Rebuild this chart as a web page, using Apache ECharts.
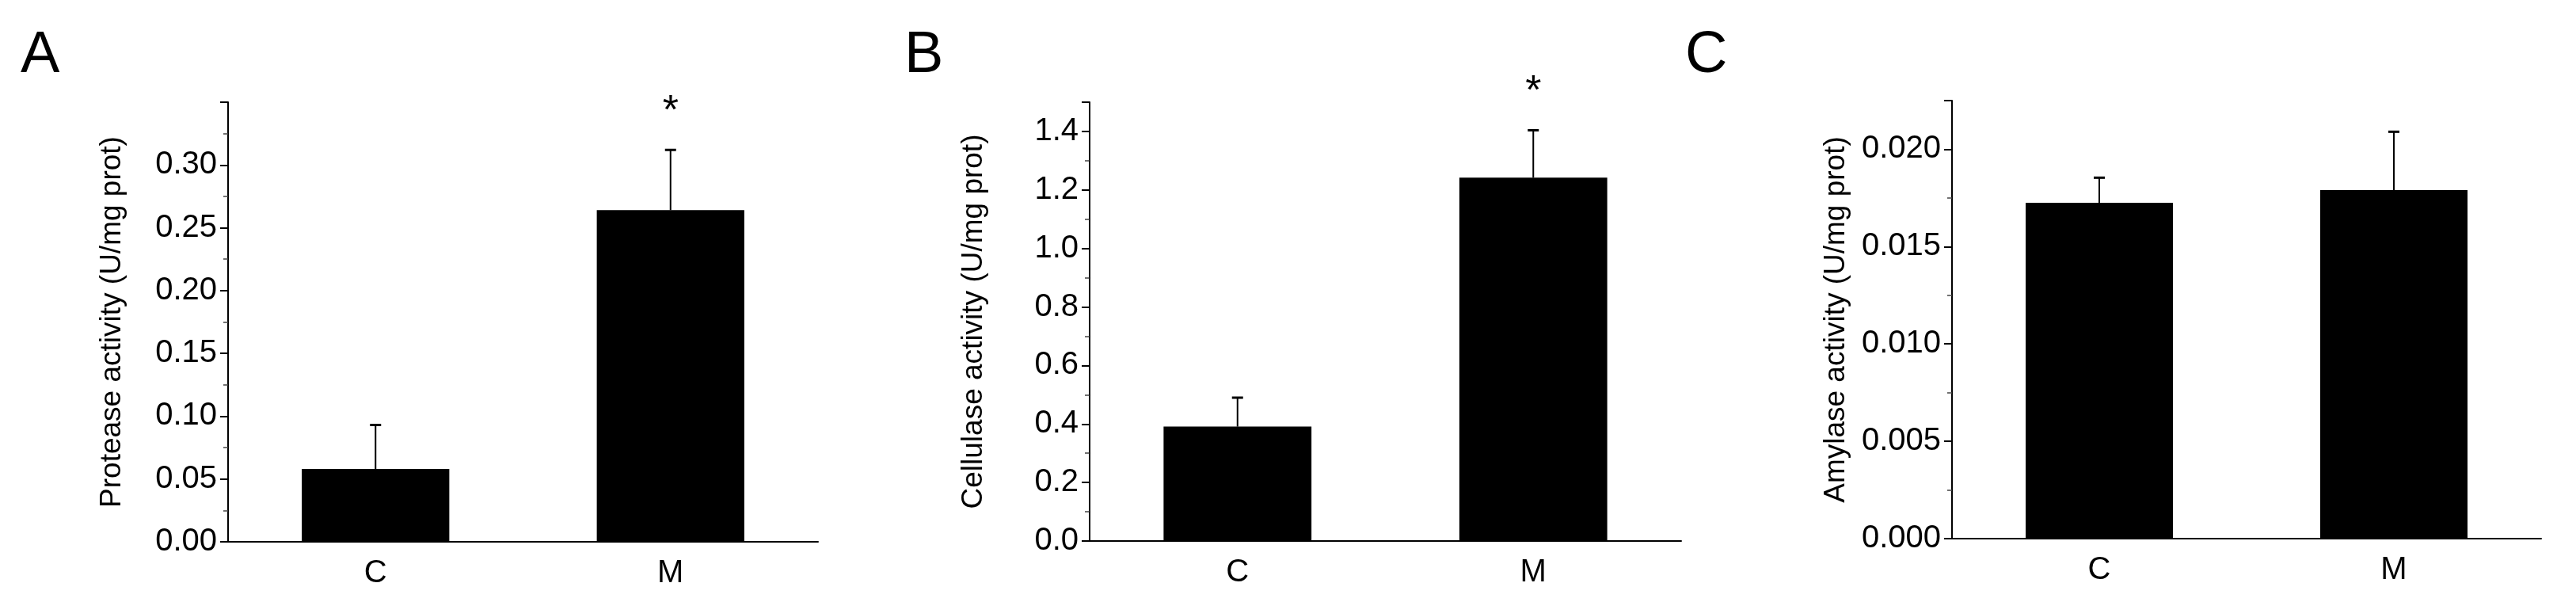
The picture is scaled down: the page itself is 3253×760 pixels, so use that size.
<!DOCTYPE html>
<html>
<head>
<meta charset="utf-8">
<script src="https://cdn.jsdelivr.net/npm/echarts@6/dist/echarts.min.js"></script>
<style>html,body{margin:0;padding:0;background:#fff}#chart{width:3253px;height:760px}</style>
</head>
<body>
<div id="chart"></div>
<script>
var categories = ['C', 'M'];

var proteaseMean = [0.058, 0.264];
var proteaseUpper = [0.093, 0.312];
var cellulaseMean = [0.391, 1.242];
var cellulaseUpper = [0.49, 1.404];
var amylaseMean = [0.01725, 0.0179];
var amylaseUpper = [0.01854, 0.0209];

var proteaseStars = ['', '*'];
var cellulaseStars = ['', '*'];
var amylaseStars = ['', ''];

var panels = [
    {letter: 'A', name: 'Protease activity (U/mg prot)', mean: proteaseMean, upper: proteaseUpper, stars: proteaseStars,
        max: 0.35, interval: 0.05, digits: 2, grid: {left: 288, width: 745, top: 129, height: 555}, letterX: 26},
    {letter: 'B', name: 'Cellulase activity (U/mg prot)', mean: cellulaseMean, upper: cellulaseUpper, stars: cellulaseStars,
        max: 1.5, interval: 0.2, digits: 1, grid: {left: 1376, width: 747, top: 129, height: 554}, letterX: 1142},
    {letter: 'C', name: 'Amylase activity (U/mg prot)', mean: amylaseMean, upper: amylaseUpper, stars: amylaseStars,
        max: 0.0225, interval: 0.005, digits: 3, grid: {left: 2465, width: 744, top: 127, height: 553}, letterX: 2128}
];

var font = 'Liberation Sans, Arial, sans-serif';
var grids = [], xAxes = [], yAxes = [], series = [], graphics = [];

panels.forEach(function (p, i) {
    grids.push(p.grid);
    xAxes.push({
        type: 'category', gridIndex: i, data: categories,
        axisLine: {lineStyle: {color: '#000', width: 2}},
        axisTick: {alignWithLabel: true, length: 12, lineStyle: {color: '#000', width: 2}},
        axisLabel: {color: '#000', fontSize: 40, fontFamily: font, margin: 20}
    });
    // boundary ticks
    xAxes.push({
        type: 'category', gridIndex: i, data: categories, position: 'bottom',
        axisLine: {show: false},
        axisTick: {length: 7, lineStyle: {color: '#000', width: 2}},
        axisLabel: {show: false}
    });
    yAxes.push({
        type: 'value', gridIndex: i, min: 0, max: p.max, interval: p.interval,
        name: p.name, nameLocation: 'middle', nameGap: 128, nameRotate: 90,
        nameTextStyle: {color: '#000', fontSize: 37, fontFamily: font},
        splitLine: {show: false},
        axisLine: {show: true, lineStyle: {color: '#000', width: 2}},
        axisTick: {show: true, length: 10, lineStyle: {color: '#000', width: 2}},
        minorTick: {show: true, splitNumber: 2, length: 6, lineStyle: {color: '#444', width: 1.5}},
        axisLabel: {color: '#000', fontSize: 40, fontFamily: font, margin: 14, showMaxLabel: false,
            formatter: function (v) { return v.toFixed(p.digits); }}
    });
    series.push({
        type: 'bar', xAxisIndex: i * 2, yAxisIndex: i, data: p.mean, barWidth: '50%',
        itemStyle: {color: '#000'}
    });
    var errData = categories.map(function (c, k) { return [k, p.upper[k], p.mean[k], p.stars[k]]; });
    series.push({
        type: 'custom', xAxisIndex: i * 2, yAxisIndex: i, data: errData, z: 5,
        renderItem: function (params, api) {
            var top = api.coord([api.value(0), api.value(1)]);
            var base = api.coord([api.value(0), api.value(2)]);
            var star = p.stars[params.dataIndex];
            var children = [
                {type: 'line', shape: {x1: top[0], y1: top[1], x2: base[0], y2: base[1]}, style: {stroke: '#000', lineWidth: 2}},
                {type: 'line', shape: {x1: top[0] - 7, y1: top[1], x2: top[0] + 7, y2: top[1]}, style: {stroke: '#000', lineWidth: 3}}
            ];
            if (star) {
                children.push({type: 'text', x: top[0], y: top[1] - 22, style: {text: star, fill: '#000', fontSize: 52,
                    fontFamily: font, align: 'center', verticalAlign: 'bottom'}});
            }
            return {type: 'group', children: children};
        }
    });
    graphics.push({type: 'text', left: p.letterX, top: 34, style: {text: p.letter, fill: '#000', fontSize: 74, fontFamily: font}});
});

var chart = echarts.init(document.getElementById('chart'));
chart.setOption({
    backgroundColor: '#fff',
    animation: false,
    grid: grids,
    xAxis: xAxes,
    yAxis: yAxes,
    series: series,
    graphic: graphics
});
</script>
</body>
</html>
